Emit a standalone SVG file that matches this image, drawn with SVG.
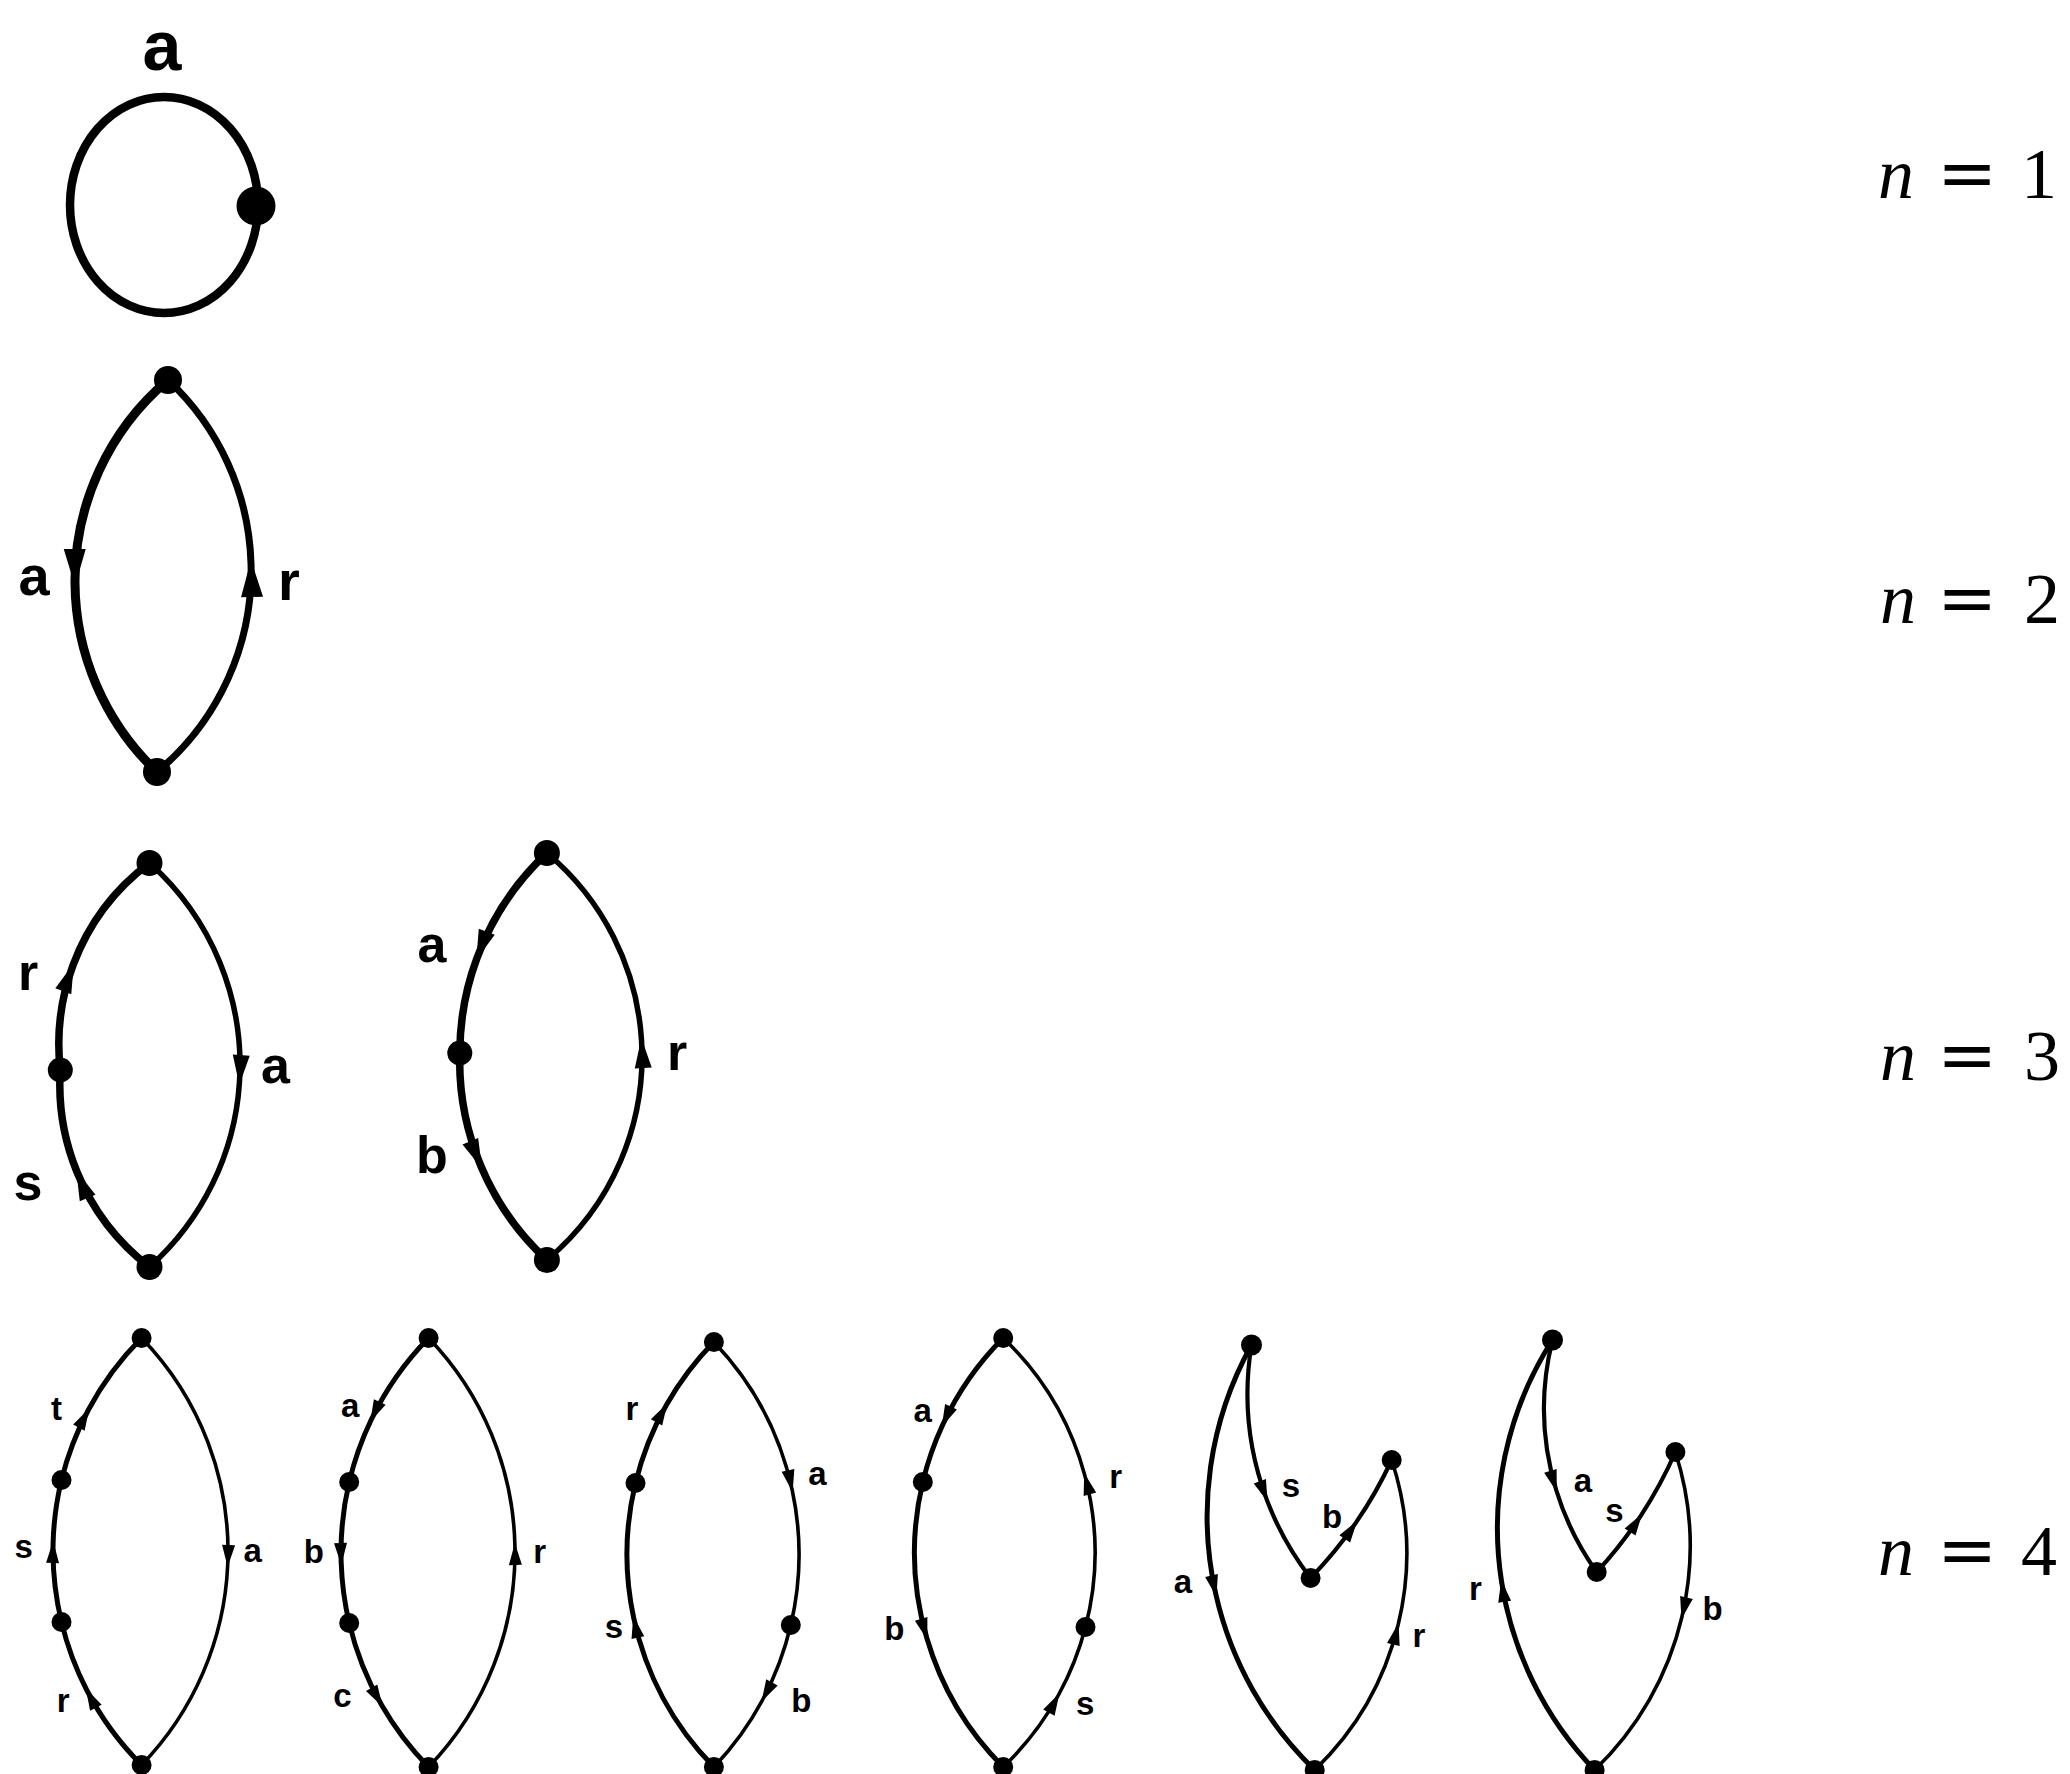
<svg xmlns="http://www.w3.org/2000/svg" width="2070" height="1774" viewBox="0 0 2070 1774">
<style>
.e{fill:none;stroke:#000;stroke-linecap:round;stroke-linejoin:round}
.t1{stroke-width:8.5}.t2L{stroke-width:9}.t2R{stroke-width:7}.t3L{stroke-width:7.5}.t3R{stroke-width:5.5}.t4L{stroke-width:5}.t4M{stroke-width:4.2}.t4R{stroke-width:3.6}
.a2{marker-mid:url(#ah2)}.a3{marker-mid:url(#ah3)}.a4{marker-mid:url(#ah4)}
.v{fill:#000}
.lb{font-family:"Liberation Sans",Arial,sans-serif;font-weight:bold;text-anchor:middle;fill:#000}
.l1{font-size:70px}.l2{font-size:56px}.l3{font-size:52px}.l4{font-size:33px}
.nl{font-family:"Liberation Serif","Times New Roman",serif;font-size:72px;fill:#000}
.it{font-style:italic}
.eq{font-family:"DejaVu Serif",serif}
</style>
<defs>
<marker id="ah2" markerUnits="userSpaceOnUse" markerWidth="40" markerHeight="30" refX="0" refY="0" orient="auto" overflow="visible"><path d="M3,0 L-34,-11 L-34,11 Z" fill="#000"/></marker>
<marker id="ah3" markerUnits="userSpaceOnUse" markerWidth="32" markerHeight="20" refX="0" refY="0" orient="auto" overflow="visible"><path d="M2,0 L-28,-8.5 L-28,8.5 Z" fill="#000"/></marker>
<marker id="ah4" markerUnits="userSpaceOnUse" markerWidth="24" markerHeight="14" refX="0" refY="0" orient="auto" overflow="visible"><path d="M2,0 L-20,-6.5 L-20,6.5 Z" fill="#000"/></marker>
</defs>

<g id="connectors">
<ellipse class="e t1" cx="164" cy="205" rx="94" ry="108"/>
<path class="e t2L a2" d="M168,380 A263,263 0 0 0 75,583 A263,263 0 0 0 157,772"/>
<path class="e t2R a2" d="M157,772 A261,261 0 0 0 251,563 A261,261 0 0 0 168,380"/>
<path class="e t3L a3" d="M60.3,1070 A226.7,226.7 0 0 1 73.1,965 A226.7,226.7 0 0 1 149.5,863"/>
<path class="e t3L a3" d="M149.5,1267 A230,230 0 0 1 77,1172 A230,230 0 0 1 60.3,1070"/>
<path class="e t3R a3" d="M149.5,863 A270.7,270.7 0 0 1 239.4,1083 A270.7,270.7 0 0 1 149.5,1267"/>
<path class="e t3L a3" d="M546.9,853 A273,273 0 0 0 477,958 A273,273 0 0 0 459.8,1053"/>
<path class="e t3L a3" d="M459.8,1053 A270.6,270.6 0 0 0 481.3,1167 A270.6,270.6 0 0 0 546.9,1260"/>
<path class="e t3R a3" d="M546.9,1260 A265.3,265.3 0 0 0 641.5,1040 A265.3,265.3 0 0 0 546.9,853"/>
<path class="e t4L a4" d="M61.5,1480 A301.5,301.5 0 0 1 88.3,1410 A301.5,301.5 0 0 1 141.6,1338"/>
<path class="e t4L a4" d="M61.5,1622 A301.5,301.5 0 0 1 53.1,1543 A301.5,301.5 0 0 1 61.5,1480"/>
<path class="e t4L a4" d="M141.6,1765 A301.5,301.5 0 0 1 86.7,1690 A301.5,301.5 0 0 1 61.5,1622"/>
<path class="e t4R a4" d="M141.6,1338 A307,307 0 0 1 227.7,1565 A307,307 0 0 1 141.6,1765"/>
<path class="e t4L a4" d="M428.6,1338 A306.4,306.4 0 0 0 371.1,1420 A306.4,306.4 0 0 0 349.2,1482"/>
<path class="e t4L a4" d="M349.2,1482 A306.4,306.4 0 0 0 341.2,1563 A306.4,306.4 0 0 0 349.2,1623"/>
<path class="e t4L a4" d="M349.2,1623 A306.4,306.4 0 0 0 381.6,1705 A306.4,306.4 0 0 0 428.6,1767"/>
<path class="e t4R a4" d="M428.6,1767 A309.5,309.5 0 0 0 514.9,1545 A309.5,309.5 0 0 0 428.6,1338"/>
<path class="e t4L a4" d="M635.5,1483 A303.3,303.3 0 0 1 666.4,1405 A303.3,303.3 0 0 1 713.9,1342"/>
<path class="e t4L a4" d="M713.9,1767 A303.3,303.3 0 0 1 633.7,1618 A303.3,303.3 0 0 1 635.5,1483"/>
<path class="e t4R a4" d="M713.9,1342 A307.9,307.9 0 0 1 792.2,1490 A307.9,307.9 0 0 1 790.8,1625"/>
<path class="e t4R a4" d="M790.8,1625 A307.9,307.9 0 0 1 762.5,1700 A307.9,307.9 0 0 1 713.9,1767"/>
<path class="e t4L a4" d="M1003.2,1338 A303.7,303.7 0 0 0 942.6,1425 A303.7,303.7 0 0 0 922.8,1482"/>
<path class="e t4L a4" d="M922.8,1482 A303.7,303.7 0 0 0 926.8,1638 A303.7,303.7 0 0 0 1003.2,1767"/>
<path class="e t4R a4" d="M1085.5,1627 A296.5,296.5 0 0 0 1084.7,1475 A296.5,296.5 0 0 0 1003.2,1338"/>
<path class="e t4R a4" d="M1003.2,1767 A296.5,296.5 0 0 0 1058.5,1695 A296.5,296.5 0 0 0 1085.5,1627"/>
<path class="e t4L a4" d="M1251.5,1345 A352.7,352.7 0 0 0 1216,1595 A352.7,352.7 0 0 0 1314.7,1770"/>
<path class="e t4M a4" d="M1251.5,1345 A301.5,301.5 0 0 0 1266.9,1500 A301.5,301.5 0 0 0 1310.6,1578"/>
<path class="e t4M a4" d="M1310.6,1578 A430,430 0 0 0 1356.1,1522.4 A430,430 0 0 0 1391.7,1460"/>
<path class="e t4R a4" d="M1314.7,1770 A300.2,300.2 0 0 0 1398.1,1625 A300.2,300.2 0 0 0 1391.7,1460"/>
<path class="e t4L a4" d="M1594.6,1770 A348.7,348.7 0 0 1 1501.6,1582 A348.7,348.7 0 0 1 1552.5,1340"/>
<path class="e t4M a4" d="M1552.5,1340 A281.2,281.2 0 0 0 1556.2,1490 A281.2,281.2 0 0 0 1596.7,1572"/>
<path class="e t4M a4" d="M1596.7,1572 A432,432 0 0 0 1641.05,1515.3 A432,432 0 0 0 1675.4,1452"/>
<path class="e t4R a4" d="M1675.4,1452 A309.8,309.8 0 0 1 1681.9,1617 A309.8,309.8 0 0 1 1594.6,1770"/>
</g>

<g id="nodes">
<g id="n1-v1"><circle class="v" cx="256" cy="206" r="19.5"/></g>
<g id="n2-top"><circle class="v" cx="168" cy="380" r="14"/></g>
<g id="n2-bot"><circle class="v" cx="157" cy="772" r="14"/></g>
<g id="n3a-top"><circle class="v" cx="149.5" cy="863" r="13"/></g>
<g id="n3a-left"><circle class="v" cx="60.3" cy="1070" r="12.5"/></g>
<g id="n3a-bot"><circle class="v" cx="149.5" cy="1267" r="13"/></g>
<g id="n3b-top"><circle class="v" cx="546.9" cy="853" r="13"/></g>
<g id="n3b-left"><circle class="v" cx="459.8" cy="1053" r="12.5"/></g>
<g id="n3b-bot"><circle class="v" cx="546.9" cy="1260" r="13"/></g>
<g id="n4a-top"><circle class="v" cx="141.6" cy="1338" r="10"/></g>
<g id="n4a-l1"><circle class="v" cx="61.5" cy="1480" r="10"/></g>
<g id="n4a-l2"><circle class="v" cx="61.5" cy="1622" r="10"/></g>
<g id="n4a-bot"><circle class="v" cx="141.6" cy="1765" r="10"/></g>
<g id="n4b-top"><circle class="v" cx="428.6" cy="1338" r="10"/></g>
<g id="n4b-l1"><circle class="v" cx="349.2" cy="1482" r="10"/></g>
<g id="n4b-l2"><circle class="v" cx="349.2" cy="1623" r="10"/></g>
<g id="n4b-bot"><circle class="v" cx="428.6" cy="1767" r="10"/></g>
<g id="n4c-top"><circle class="v" cx="713.9" cy="1342" r="10"/></g>
<g id="n4c-l"><circle class="v" cx="635.5" cy="1483" r="10"/></g>
<g id="n4c-r"><circle class="v" cx="790.8" cy="1625" r="10"/></g>
<g id="n4c-bot"><circle class="v" cx="713.9" cy="1767" r="10"/></g>
<g id="n4d-top"><circle class="v" cx="1003.2" cy="1338" r="10"/></g>
<g id="n4d-l"><circle class="v" cx="922.8" cy="1482" r="10"/></g>
<g id="n4d-r"><circle class="v" cx="1085.5" cy="1627" r="10"/></g>
<g id="n4d-bot"><circle class="v" cx="1003.2" cy="1767" r="10"/></g>
<g id="n4e-top"><circle class="v" cx="1251.5" cy="1345" r="10.5"/></g>
<g id="n4e-r"><circle class="v" cx="1391.7" cy="1460" r="10"/></g>
<g id="n4e-m"><circle class="v" cx="1310.6" cy="1578" r="10"/></g>
<g id="n4e-bot"><circle class="v" cx="1314.7" cy="1770" r="10"/></g>
<g id="n4f-top"><circle class="v" cx="1552.5" cy="1340" r="10.5"/></g>
<g id="n4f-r"><circle class="v" cx="1675.4" cy="1452" r="10"/></g>
<g id="n4f-m"><circle class="v" cx="1596.7" cy="1572" r="10"/></g>
<g id="n4f-bot"><circle class="v" cx="1594.6" cy="1770" r="10"/></g>
</g>

<g id="labels">
<text class="lb l1" x="162" y="70">a</text>
<text class="lb l2" x="34" y="595">a</text>
<text class="lb l2" x="289" y="600">r</text>
<text class="lb l3" x="28" y="990">r</text>
<text class="lb l3" x="275.5" y="1083">a</text>
<text class="lb l3" x="28" y="1200">s</text>
<text class="lb l3" x="432" y="962">a</text>
<text class="lb l3" x="432" y="1173">b</text>
<text class="lb l3" x="677" y="1070">r</text>
<text class="lb l4" x="56.6" y="1420">t</text>
<text class="lb l4" x="23.7" y="1558">s</text>
<text class="lb l4" x="252.6" y="1562">a</text>
<text class="lb l4" x="63.1" y="1712">r</text>
<text class="lb l4" x="350.2" y="1417">a</text>
<text class="lb l4" x="313.8" y="1563">b</text>
<text class="lb l4" x="539.6" y="1563">r</text>
<text class="lb l4" x="342.5" y="1707">c</text>
<text class="lb l4" x="631.8" y="1420">r</text>
<text class="lb l4" x="817.5" y="1485">a</text>
<text class="lb l4" x="613.9" y="1638">s</text>
<text class="lb l4" x="801.4" y="1712">b</text>
<text class="lb l4" x="922.8" y="1422">a</text>
<text class="lb l4" x="1115.7" y="1488">r</text>
<text class="lb l4" x="894.3" y="1640">b</text>
<text class="lb l4" x="1085.3" y="1715">s</text>
<text class="lb l4" x="1291" y="1497">s</text>
<text class="lb l4" x="1332" y="1528">b</text>
<text class="lb l4" x="1183" y="1593">a</text>
<text class="lb l4" x="1419" y="1647">r</text>
<text class="lb l4" x="1583" y="1492">a</text>
<text class="lb l4" x="1614.5" y="1522">s</text>
<text class="lb l4" x="1712.6" y="1620">b</text>
<text class="lb l4" x="1475.5" y="1600">r</text>
<text class="nl" y="198"><tspan class="it" x="1878">n</tspan> <tspan class="eq" x="1937">=</tspan> <tspan x="2021">1</tspan></text>
<text class="nl" y="623"><tspan class="it" x="1880">n</tspan> <tspan class="eq" x="1937">=</tspan> <tspan x="2024">2</tspan></text>
<text class="nl" y="1080"><tspan class="it" x="1880">n</tspan> <tspan class="eq" x="1937">=</tspan> <tspan x="2024">3</tspan></text>
<text class="nl" y="1575"><tspan class="it" x="1878">n</tspan> <tspan class="eq" x="1937">=</tspan> <tspan x="2021">4</tspan></text>
</g>
</svg>
